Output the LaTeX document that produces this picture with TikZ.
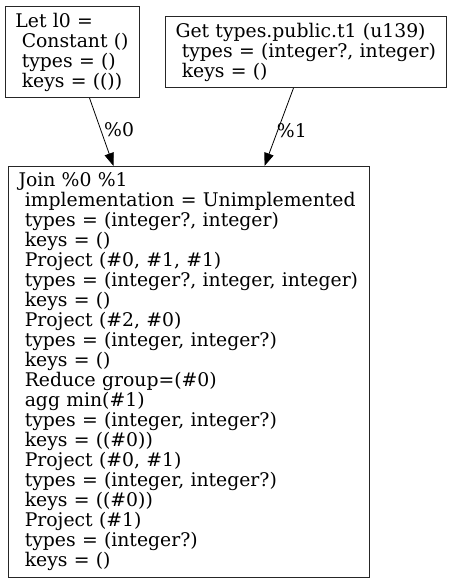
\documentclass[tikz,border=0pt]{standalone}
\usepackage{fontspec}
\setmainfont{DejaVu Serif}
\usetikzlibrary{arrows.meta}
\begin{document}
\begin{tikzpicture}[x=1pt,y=-1pt,
  box/.style={draw=black!85, line width=1pt, align=left, anchor=north west, inner xsep=10pt, inner ysep=0pt,
    font=\fontsize{18.8}{20}\selectfont},
  edge/.style={-{Triangle[length=13pt,width=9.5pt]}, line width=0.8pt},
  elab/.style={font=\fontsize{18.8}{20}\selectfont, inner sep=0pt}]
\useasboundingbox (0,0) rectangle (453,583);
\node[box, minimum width=134pt, minimum height=91pt, text width=114pt] (A) at (5,6)
  {Let l0 =\\\ Constant ()\\\ types = ()\\\ keys = (())};
\node[box, minimum width=281pt, minimum height=71pt, text width=261pt] (B) at (165,16)
  {Get types.public.t1 (u139)\\\ types = (integer?, integer)\\\ keys = ()};
\node[box, minimum width=361pt, minimum height=411pt, text width=341pt] (C) at (8,166)
  {Join \%0 \%1\\\ implementation = Unimplemented\\\ types = (integer?, integer)\\\ keys = ()\\
   \ Project (\#0, \#1, \#1)\\\ types = (integer?, integer, integer)\\\ keys = ()\\
   \ Project (\#2, \#0)\\\ types = (integer, integer?)\\\ keys = ()\\
   \ Reduce group=(\#0)\\\ agg min(\#1)\\\ types = (integer, integer?)\\\ keys = ((\#0))\\
   \ Project (\#0, \#1)\\\ types = (integer, integer?)\\\ keys = ((\#0))\\
   \ Project (\#1)\\\ types = (integer?)\\\ keys = ()};
\draw[edge] ([xshift=17pt]A.south) -- node[elab, pos=0.47, right=3pt] {\%0} ([xshift=-75.5pt]C.north);
\draw[edge] ([xshift=-12.5pt]B.south) -- node[elab, pos=0.55, right=-1pt] {\%1} ([xshift=75.5pt]C.north);
\end{tikzpicture}
\end{document}
